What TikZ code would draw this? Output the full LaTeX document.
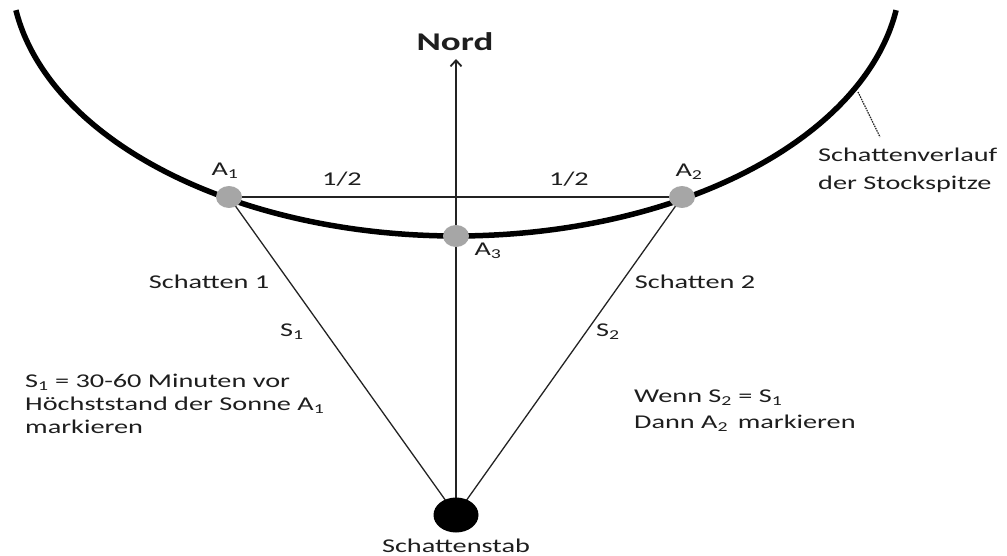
\documentclass[tikz,border=0pt]{standalone}
\usepackage{fontspec}
\setmainfont{Carlito}[FakeStretch=1.45]
\usetikzlibrary{shapes.geometric,arrows.meta,backgrounds}
\definecolor{ptgray}{RGB}{166,166,166}
\definecolor{txtc}{RGB}{30,30,30}
\definecolor{linec}{RGB}{35,35,35}
\tikzset{
  lbl/.style={font=\fontsize{19.5}{23}\selectfont, text=txtc, inner sep=0pt},
  blk/.style={lbl, align=left, anchor=base west},
  ptnode/.style={ellipse, fill=ptgray, minimum width=26pt, minimum height=22pt, inner sep=0pt},
  stabnode/.style={ellipse, fill=black, minimum width=45pt, minimum height=35pt, inner sep=0pt},
  curveline/.style={line width=5.5pt, black},
  thinline/.style={line width=1.3pt, linec},
  axisline/.style={line width=1.8pt, linec},
  leader/.style={line width=1.2pt, linec, dash pattern=on 1.5pt off 1pt}
}
\begin{document}
\begin{tikzpicture}[x=1pt,y=-1pt]
\useasboundingbox (0,0) rectangle (1007,556);
% nodes
\node[ptnode] (a1) at (229,197) {};
\node[ptnode] (a2) at (682,197) {};
\node[ptnode] (a3) at (456,236) {};
\node[stabnode] (stab) at (456,515) {};
\coordinate (nordtip) at (456,59);
\coordinate (lead1) at (858,92);
\coordinate (lead2) at (880,137);
% background drawing
\begin{scope}[on background layer]
\draw[curveline] plot[domain=-81.5:81.5, samples=120, smooth]
  ({456+445*sin(\x)},{-29+265*cos(\x)});
\draw[thinline] (a1.center) -- (a2.center);
\draw[thinline] (a1.center) -- (stab.center);
\draw[thinline] (a2.center) -- (stab.center);
\draw[axisline, -{Straight Barb[length=6pt,width=11pt]}] (stab.center) -- (nordtip);
\draw[leader] (lead1) -- (lead2);
\end{scope}
% labels
\node[lbl, font=\fontsize{25.5}{28}\selectfont\bfseries] (nord) at (455,42) {Nord};
\node[lbl] (la1) at (225,171) {A\textsubscript{1}};
\node[lbl] (la2) at (689,172) {A\textsubscript{2}};
\node[lbl] (la3) at (488,251) {A\textsubscript{3}};
\node[lbl] (h1) at (342,179) {1/2};
\node[lbl] (h2) at (569,179) {1/2};
\node[lbl] (sch1) at (209,282) {Schatten 1};
\node[lbl] (s1) at (292,332) {S\textsubscript{1}};
\node[lbl] (sch2) at (695,282) {Schatten 2};
\node[lbl] (s2) at (608,332) {S\textsubscript{2}};
\node[blk] (verlauf) at (818,190) {Schattenverlauf\\[5pt]der Stockspitze};
\node[blk] (left) at (25,433) {S\textsubscript{1} = 30-60 Minuten vor\\Höchststand der Sonne A\textsubscript{1}\\markieren};
\node[blk] (right) at (634,428) {Wenn S\textsubscript{2} = S\textsubscript{1}\\[3pt]Dann A\textsubscript{2}\, markieren};
\node[lbl] (stablbl) at (456,546) {Schattenstab};
\end{tikzpicture}
\end{document}
